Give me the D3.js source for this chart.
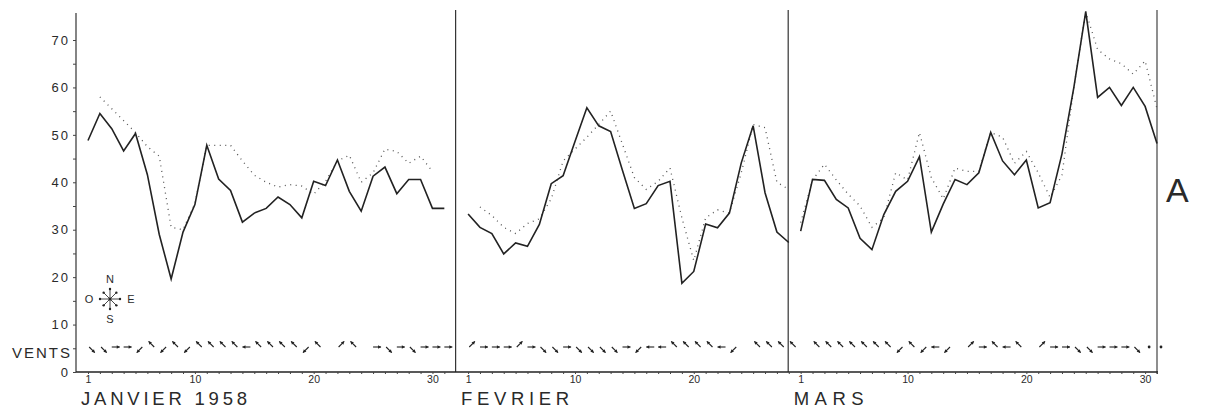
<!DOCTYPE html>
<html><head><meta charset="utf-8">
<script src="https://cdn.jsdelivr.net/npm/d3@7"></script>
<style>
body{margin:0;background:#fff}
svg{display:block}
text{font-family:"Liberation Sans",Arial,sans-serif;fill:#2a2a2a}
</style></head>
<body><svg id="c" width="1210" height="417"></svg>
<script>
// ---------- data ----------
const monthLabels = ["JANVIER 1958", "FEVRIER", "MARS"];
const monthDayCounts = [31, 28, 31];
const monthStartIndex = [0, 32, 60];           // position of day 1 on the continuous day axis
const dayTickLabels = [1, 10, 20, 30];
const yTickLabels = [0, 10, 20, 30, 40, 50, 60, 70];

const janSolid  = [48.8, 54.5, 51.3, 46.6, 50.3, 41.6, 29.0, 19.6, 29.5, 35.3, 47.8, 40.7, 38.3, 31.6, 33.5, 34.5, 36.9, 35.3, 32.5, 40.2, 39.3, 44.7, 38.1, 33.9, 41.3, 43.2, 37.6, 40.6, 40.6, 34.5, 34.5];
const janDotted = [null, 58, 55.5, 53, 50.5, 47.5, 45.5, 30.5, 30, 35.5, 47.8, 47.8, 47.8, 44.5, 41.5, 40, 39, 39.5, 39.2, 37.5, 40.2, 44.5, 45.7, 40, 42, 47, 46.5, 44, 45.5, 42.3, null];
const febSolid  = [33.3, 30.5, 29.2, 24.9, 27.2, 26.5, 31.1, 39.7, 41.4, 48.6, 55.7, 51.9, 50.7, 42.5, 34.5, 35.5, 39.3, 40.2, 18.7, 21.2, 31.2, 30.4, 33.5, 44.1, 51.9, 37.8, 29.5, 27.3];
const febDotted = [null, 34.8, 33, 30.5, 29.2, 31.3, 32.3, 36.5, 44.5, 47, 49.5, 52.2, 55, 48, 41, 38.5, 40.2, 43, 32.5, 23.5, 32.5, 34.2, 33.5, 42, 52.2, 51.5, 40, 38.5];
const marSolid  = [29.7, 40.6, 40.4, 36.4, 34.6, 28.2, 25.8, 33.2, 38.1, 40.2, 45.4, 29.5, 35.4, 40.6, 39.5, 42.0, 50.5, 44.5, 41.6, 44.7, 34.6, 35.7, 46, 60, 76, 57.9, 60.0, 56.2, 60.0, 56, 48.2];
const marDotted = [31.5, 40.5, 43.8, 40.5, 37.5, 35, 30.5, 32.5, 42, 40.5, 50.5, 41, 36.5, 43, 42.3, 42.3, 50.5, 49.5, 44, 46.5, 42, 36.8, 41.5, 60, 76, 68, 66, 65, 62.8, 65.6, 55.5];

// wind direction the arrow points to (null = no arrow, C = calm)
const janWind = ["SE","SE","E","E","SW","NW","SW","NW","SW","NW","NW","NW","NW","W","NW","NW","NW","NW","SW","NW",null,"NE","NW",null,"E","SE","E","SE","E","E","E"];
const febWind = ["NE","E","E","E","NE","E","SE","SE","E","SE","SE","SE","SE","E","SW","W","W","NW","NW","NW","NW","W","SW",null,"NW","NW","NW","NW"];
const marWind = [null,"NW","NW","NW","NW","NW","NW","NW","SW","NW","SW","W","SW",null,"NE","E","NW","W","NW",null,"NE","E","E","SE","SE","E","E","E","SE","C","C"];

const compassLabels = [["N",0,-1],["S",0,1],["O",-1,0],["E",1,0]];

// ---------- drawing ----------
const svg = d3.select("#c");
const ink = "#222";
const x = d3.scaleLinear().domain([0, 90]).range([88, 1157]);
const y = d3.scaleLinear().domain([0, 70]).range([372, 40]);

const months = monthLabels.map((name, i) => ({
  name, start: monthStartIndex[i], n: monthDayCounts[i],
  solid: [janSolid, febSolid, marSolid][i],
  dotted: [janDotted, febDotted, marDotted][i],
  wind: [janWind, febWind, marWind][i]
}));

// frame lines
svg.append("line").attr("x1", 76).attr("x2", 76).attr("y1", 13).attr("y2", 372)
  .attr("stroke", "#333").attr("stroke-width", 1.2);
[30.95, 58.95].forEach(v => svg.append("line").attr("x1", x(v)).attr("x2", x(v))
  .attr("y1", 10).attr("y2", 372).attr("stroke", "#333").attr("stroke-width", 1.2));
svg.append("line").attr("x1", x(90)).attr("x2", x(90)).attr("y1", 10).attr("y2", 374)
  .attr("stroke", "#444").attr("stroke-width", 1.2);
svg.append("line").attr("x1", 76).attr("x2", x(90) + 1).attr("y1", 372).attr("y2", 372)
  .attr("stroke", "#222").attr("stroke-width", 1.3);

// y axis
const yAxis = d3.axisLeft(y).tickValues(d3.range(0, 71, 5)).tickSize(3).tickPadding(3)
  .tickFormat(v => yTickLabels.includes(v) ? v : "");
const gy = svg.append("g").attr("transform", "translate(76,0)").call(yAxis);
gy.select(".domain").remove();
gy.selectAll(".tick line").attr("stroke", "#444");
gy.selectAll(".tick text").attr("font-size", 13).attr("letter-spacing", 2)
  .style("font-family", "Liberation Sans, Arial, sans-serif").attr("fill", "#333");

// x axes per month
months.forEach(m => {
  const idx = d3.range(m.n).map(k => m.start + k);
  const ax = d3.axisBottom(x).tickValues(idx).tickSize(2).tickPadding(2)
    .tickFormat(i => { const d = i - m.start + 1; return dayTickLabels.includes(d) ? d : ""; });
  const g = svg.append("g").attr("transform", "translate(0,372)").call(ax);
  g.select(".domain").remove();
  g.selectAll(".tick line").attr("stroke", "#444");
  g.selectAll(".tick text").attr("font-size", 10.5).attr("fill", "#333")
    .style("font-family", "Liberation Sans, Arial, sans-serif");
  svg.append("text").attr("x", x(m.start) - 7).attr("y", 405)
    .attr("font-size", 18.5).attr("fill", "#333")
    .attr("textLength", m.name === "MARS" ? 70 : (m.name === "FEVRIER" ? 108 : 166))
    .attr("lengthAdjust", "spacing").text(m.name);
});

// lines
const lineGen = start => d3.line().defined(d => d != null)
  .x((d, k) => x(start + k)).y(d => y(d));
months.forEach(m => {
  svg.append("path").attr("d", lineGen(m.start)(m.dotted))
    .attr("fill", "none").attr("stroke", "#555").attr("stroke-width", 1.3)
    .attr("stroke-dasharray", "1,4.5");
  svg.append("path").attr("d", lineGen(m.start)(m.solid))
    .attr("fill", "none").attr("stroke", ink).attr("stroke-width", 1.6)
    .attr("stroke-linejoin", "miter");
});

// wind arrows
const dirs = {N:[0,-1],S:[0,1],E:[1,0],W:[-1,0],NE:[.707,-.707],NW:[-.707,-.707],SE:[.707,.707],SW:[-.707,.707]};
const windY = 347;
function arrow(g, cx, cy, u, len, head) {
  const tx = cx - (len / 2) * u[0], ty = cy;
  const hx = tx + len * u[0], hy = ty + len * u[1];
  g.append("line").attr("x1", tx).attr("y1", ty).attr("x2", hx).attr("y2", hy)
    .attr("stroke", ink).attr("stroke-width", 1.1);
  const px = -u[1], py = u[0];
  g.append("path").attr("d", `M${hx},${hy}L${hx - head*u[0] + head*0.6*px},${hy - head*u[1] + head*0.6*py}L${hx - head*u[0] - head*0.6*px},${hy - head*u[1] - head*0.6*py}Z`)
    .attr("fill", ink);
}
const gw = svg.append("g");
months.forEach(m => {
  m.wind.forEach((w, k) => {
    if (!w) return;
    const cx = x(m.start + k) + 4;
    if (w === "C") { gw.append("circle").attr("cx", cx).attr("cy", windY).attr("r", 1.4).attr("fill", ink); return; }
    arrow(gw, cx, windY, dirs[w], 8, 3);
  });
});
svg.append("text").attr("x", 12).attr("y", 358).attr("font-size", 15).attr("fill", "#333")
  .attr("textLength", 58).attr("lengthAdjust", "spacing").text("VENTS");

// compass rose
const cc = [110, 299];
const gc = svg.append("g");
Object.values(dirs).forEach(u => {
  const L = (u[0] !== 0 && u[1] !== 0) ? 9 : 10;
  gc.append("line").attr("x1", cc[0]).attr("y1", cc[1]).attr("x2", cc[0] + L*u[0]).attr("y2", cc[1] + L*u[1])
    .attr("stroke", "#333").attr("stroke-width", 0.9);
  gc.append("circle").attr("cx", cc[0] + L*u[0]).attr("cy", cc[1] + L*u[1]).attr("r", 1.2).attr("fill", "#222");
});
gc.append("circle").attr("cx", cc[0]).attr("cy", cc[1]).attr("r", 1.5).attr("fill", "#222");
compassLabels.forEach(([t, dx, dy]) => {
  gc.append("text").attr("x", cc[0] + dx*21).attr("y", cc[1] + dy*20 + 4)
    .attr("text-anchor", "middle").attr("font-size", 11).text(t);
});

// panel letter
svg.append("text").attr("x", 1166).attr("y", 202).attr("font-size", 34).attr("fill", "#222").text("A");
</script></body></html>
